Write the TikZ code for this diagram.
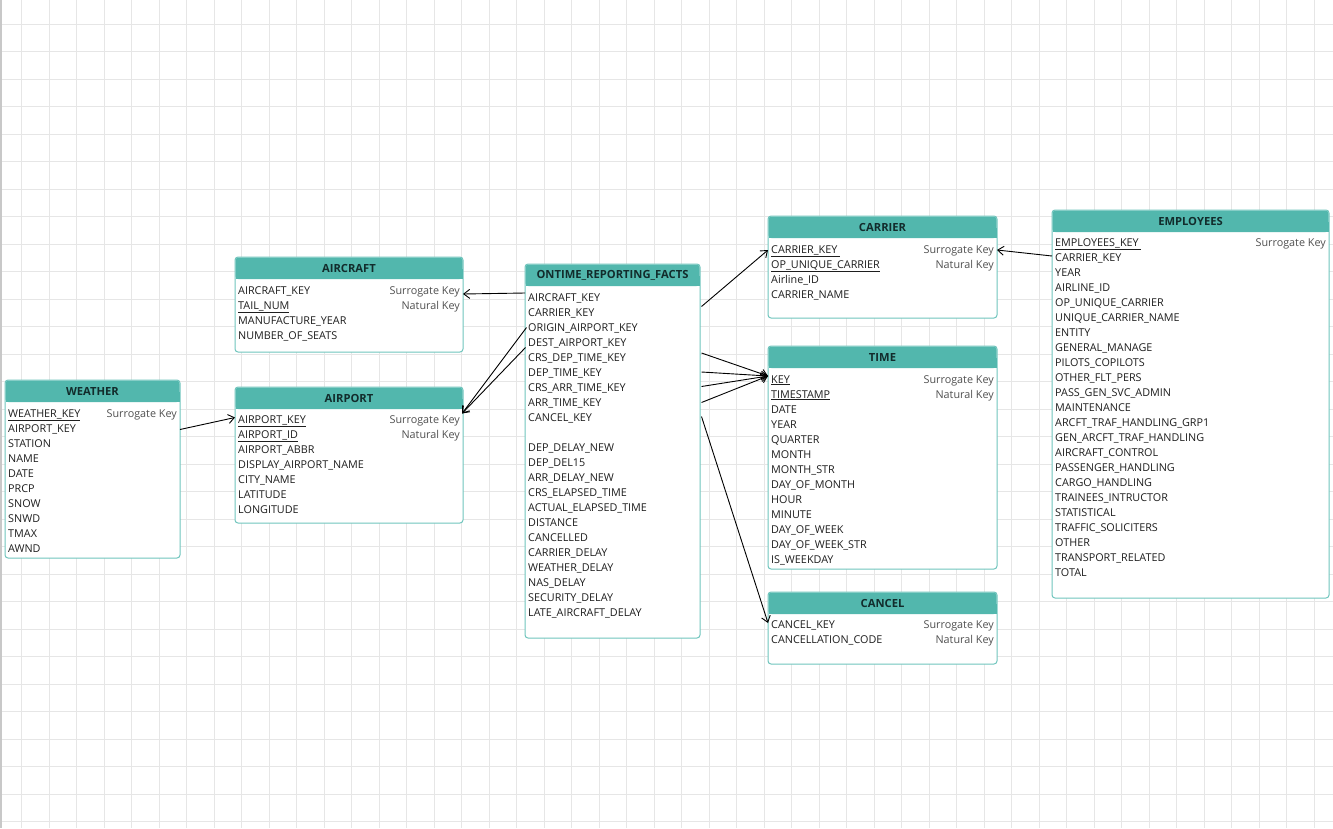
\documentclass[tikz,border=0pt]{standalone}
\usepackage{fontspec}
\setmainfont{Open Sans}
\usetikzlibrary{arrows.meta,calc}
\definecolor{hdr}{RGB}{82,183,173}
\definecolor{frame}{RGB}{112,197,189}
\definecolor{gridc}{RGB}{230,230,230}
\definecolor{leftbar}{RGB}{200,200,200}
\definecolor{txt}{RGB}{30,30,30}
\definecolor{keytxt}{RGB}{80,80,80}
\definecolor{hdrtxt}{RGB}{18,44,44}
\tikzset{
  gridline/.style={draw=gridc, line width=0.8pt},
  tabbody/.style={draw=frame, fill=white, line width=1pt, rounded corners=3pt, inner sep=0pt, outer sep=0pt},
  tabtitle/.style={inner sep=0pt, font=\bfseries\fontsize{11.2}{13}\selectfont, text=hdrtxt},
  field/.style={anchor=base west, inner sep=0pt, font=\fontsize{10.8}{13}\selectfont, text=txt},
  keylbl/.style={anchor=base east, inner sep=0pt, font=\fontsize{10.8}{13}\selectfont, text=keytxt},
  link/.style={draw=black, line width=0.9pt, -{Straight Barb[length=6pt,width=9pt]}}
}
\newcommand\ertab[6]{%
  \node[tabbody, anchor=north west, minimum width={(#4-#2)*1pt}, minimum height={(#5-#3)*1pt}] (#1) at (#2,#3) {};
  \fill[hdr, rounded corners=3pt] ({#2+0.5},{#3+0.5}) rectangle ({#4-0.5},{#3+22});
  \fill[hdr] ({#2+0.5},{#3+12}) rectangle ({#4-0.5},{#3+22});
  \node[tabtitle] (#1-title) at ({(#2+#4)/2},{#3+11.5}) {#6};
}
\newcommand\ertrows[4]{%
  \foreach \t [count=\i] in {#4} \node[field] (#1-\i) at (#2,{#3+15*(\i-1)+4}) {\t};
}
\begin{document}
\begin{tikzpicture}[x=1pt,y=-1pt]
\useasboundingbox (0,0) rectangle (1333,828);
\fill[white] (0,0) rectangle (1333,828);
\foreach \k in {0,...,47} \draw[gridline] ({21.7+27.5*\k},0) -- ({21.7+27.5*\k},828);
\foreach \k in {0,...,29} \draw[gridline] (0,{24+27.5*\k}) -- (1333,{24+27.5*\k});
\fill[leftbar] (0,0) rectangle (2,828);

% WEATHER
\ertab{weather}{5}{380}{180}{558}{WEATHER}
\ertrows{weather}{8}{413}{\underline{WEATHER\_KEY},AIRPORT\_KEY,STATION,NAME,DATE,PRCP,SNOW,SNWD,TMAX,AWND}
\node[keylbl] (weather-sk) at (177,{413+4}) {Surrogate Key};

% AIRCRAFT
\ertab{aircraft}{235}{257}{463}{352}{AIRCRAFT}
\ertrows{aircraft}{238}{290}{AIRCRAFT\_KEY,\underline{TAIL\_NUM},MANUFACTURE\_YEAR,NUMBER\_OF\_SEATS}
\node[keylbl] (aircraft-sk) at (460,{290+4}) {Surrogate Key};
\node[keylbl] (aircraft-nk) at (460,{305+4}) {Natural Key};

% AIRPORT
\ertab{airport}{235}{387}{463}{523}{AIRPORT}
\ertrows{airport}{238}{419}{\underline{AIRPORT\_KEY},\underline{AIRPORT\_ID},AIRPORT\_ABBR,DISPLAY\_AIRPORT\_NAME,CITY\_NAME,LATITUDE,LONGITUDE}
\node[keylbl] (airport-sk) at (460,{419+4}) {Surrogate Key};
\node[keylbl] (airport-nk) at (460,{434+4}) {Natural Key};

% ONTIME_REPORTING_FACTS
\ertab{ontime}{525}{264}{700}{638}{ONTIME\_REPORTING\_FACTS}
\ertrows{ontimea}{528}{297}{AIRCRAFT\_KEY,CARRIER\_KEY,ORIGIN\_AIRPORT\_KEY,DEST\_AIRPORT\_KEY,CRS\_DEP\_TIME\_KEY,DEP\_TIME\_KEY,CRS\_ARR\_TIME\_KEY,ARR\_TIME\_KEY,CANCEL\_KEY}
\ertrows{ontimeb}{528}{447}{DEP\_DELAY\_NEW,DEP\_DEL15,ARR\_DELAY\_NEW,CRS\_ELAPSED\_TIME,ACTUAL\_ELAPSED\_TIME,DISTANCE,CANCELLED,CARRIER\_DELAY,WEATHER\_DELAY,NAS\_DELAY,SECURITY\_DELAY,LATE\_AIRCRAFT\_DELAY}

% CARRIER
\ertab{carrier}{768}{216}{997}{318}{CARRIER}
\ertrows{carrier}{771}{249}{\underline{CARRIER\_KEY\ },\underline{OP\_UNIQUE\_CARRIER},Airline\_ID,CARRIER\_NAME}
\node[keylbl] (carrier-sk) at (994,{249+4}) {Surrogate Key};
\node[keylbl] (carrier-nk) at (994,{264+4}) {Natural Key};

% TIME
\ertab{time}{768}{346}{997}{569}{TIME}
\ertrows{time}{771}{379}{\underline{KEY},\underline{TIMESTAMP},DATE,YEAR,QUARTER,MONTH,MONTH\_STR,DAY\_OF\_MONTH,HOUR,MINUTE,DAY\_OF\_WEEK,DAY\_OF\_WEEK\_STR,IS\_WEEKDAY}
\node[keylbl] (time-sk) at (994,{379+4}) {Surrogate Key};
\node[keylbl] (time-nk) at (994,{394+4}) {Natural Key};

% CANCEL
\ertab{cancel}{768}{592}{997}{664}{CANCEL}
\ertrows{cancel}{771}{624}{CANCEL\_KEY,CANCELLATION\_CODE}
\node[keylbl] (cancel-sk) at (994,{624+4}) {Surrogate Key};
\node[keylbl] (cancel-nk) at (994,{639+4}) {Natural Key};

% EMPLOYEES
\ertab{employees}{1052}{210}{1329}{598}{EMPLOYEES}
\ertrows{employees}{1055}{242}{\underline{EMPLOYEES\_KEY\ },CARRIER\_KEY,YEAR,AIRLINE\_ID,OP\_UNIQUE\_CARRIER,UNIQUE\_CARRIER\_NAME,ENTITY,GENERAL\_MANAGE,PILOTS\_COPILOTS,OTHER\_FLT\_PERS,PASS\_GEN\_SVC\_ADMIN,MAINTENANCE,ARCFT\_TRAF\_HANDLING\_GRP1,GEN\_ARCFT\_TRAF\_HANDLING,AIRCRAFT\_CONTROL,PASSENGER\_HANDLING,CARGO\_HANDLING,TRAINEES\_INTRUCTOR,STATISTICAL,TRAFFIC\_SOLICITERS,OTHER,TRANSPORT\_RELATED,TOTAL}
\node[keylbl] (employees-sk) at (1326,{242+4}) {Surrogate Key};

% connector end points
\coordinate (o-ac) at (525,293);
\coordinate (ac-in) at (463,294);
\coordinate (o-org) at (526.5,327.5);
\coordinate (o-dst) at (525.5,347.5);
\coordinate (ap-in) at (462,413.5);
\coordinate (w-out) at (180,429.5);
\coordinate (ap-inl) at (235,417.5);
\coordinate (o-car) at (701.5,306.5);
\coordinate (car-in) at (768,250);
\coordinate (o-t1) at (701.5,353);
\coordinate (o-t2) at (701.5,372);
\coordinate (o-t3) at (701.5,386.5);
\coordinate (o-t4) at (701.5,402.5);
\coordinate (t-in) at (768,376);
\coordinate (o-cn) at (701.5,416.5);
\coordinate (cn-in) at (768,623);
\coordinate (e-out) at (1052,256);
\coordinate (car-inr) at (997,250);

\draw[link] (o-ac) -- (ac-in);
\draw[link] (o-org) -- (ap-in);
\draw[link] (o-dst) -- (ap-in);
\draw[link] (w-out) -- (ap-inl);
\draw[link] (o-car) -- (car-in);
\draw[link] (o-t1) -- (t-in);
\draw[link] (o-t2) -- (t-in);
\draw[link] (o-t3) -- (t-in);
\draw[link] (o-t4) -- (t-in);
\draw[link] (o-cn) -- (cn-in);
\draw[link] (e-out) -- (car-inr);
\end{tikzpicture}
\end{document}
